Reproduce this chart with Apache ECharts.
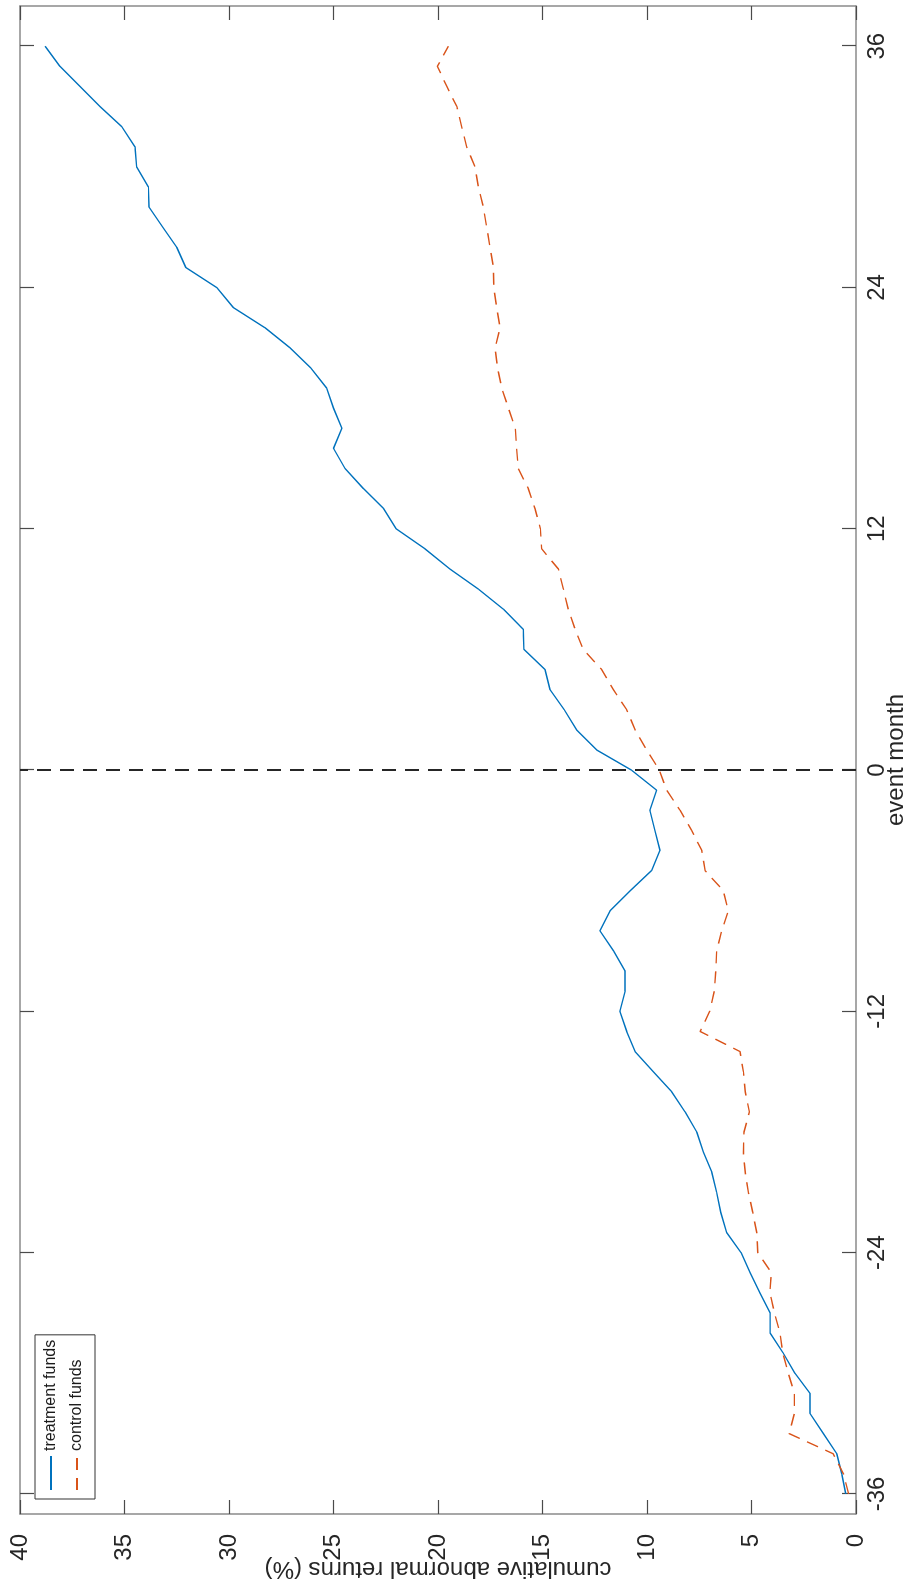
<!DOCTYPE html>
<html><head><meta charset="utf-8">
<script src="https://cdn.jsdelivr.net/npm/echarts@6/dist/echarts.min.js"></script>
<style>
html,body{margin:0;padding:0;background:#fff;overflow:hidden;width:909px;height:1581px;}
#rot{position:absolute;left:0;top:0;width:1581px;height:909px;transform-origin:0 0;transform:translate(0px,1581px) rotate(-90deg);}
</style></head><body>
<div id="rot"></div>
<script>
const months = [-36,-35,-34,-33,-32,-31,-30,-29,-28,-27,-26,-25,-24,-23,-22,-21,-20,-19,-18,-17,-16,-15,-14,-13,-12,-11,-10,-9,-8,-7,-6,-5,-4,-3,-2,-1,0,1,2,3,4,5,6,7,8,9,10,11,12,13,14,15,16,17,18,19,20,21,22,23,24,25,26,27,28,29,30,31,32,33,34,35,36];
const treatment = [0.49,0.68,0.92,1.56,2.2,2.2,2.92,3.48,4.11,4.11,4.6,5.07,5.5,6.19,6.47,6.67,6.9,7.3,7.62,8.18,8.82,9.7,10.57,10.97,11.3,11.05,11.05,11.6,12.25,11.77,10.8,9.78,9.38,9.62,9.86,9.54,10.75,12.41,13.37,13.96,14.64,14.88,15.89,15.92,16.87,18.07,19.43,20.62,22.0,22.6,23.57,24.45,25.0,24.6,25.0,25.33,26.09,27.08,28.28,29.79,30.59,32.07,32.5,33.17,33.83,33.86,34.42,34.5,35.13,36.17,37.13,38.09,38.8];
const control = [0.35,0.6,1.1,3.2,2.95,2.95,3.24,3.5,3.64,3.9,4.12,4.05,4.7,4.75,4.94,5.15,5.3,5.39,5.36,5.1,5.3,5.39,5.55,7.46,7.0,6.78,6.71,6.67,6.43,6.11,6.35,7.22,7.38,7.86,8.42,9.06,9.41,10.02,10.57,10.97,11.61,12.17,13.05,13.44,13.77,14.0,14.24,15.04,15.1,15.36,15.68,16.16,16.24,16.3,16.63,16.95,17.15,17.27,17.03,17.19,17.33,17.35,17.51,17.67,17.83,18.07,18.23,18.63,18.87,19.1,19.58,20.03,19.5];
const monthTicks = [-36,-24,-12,0,12,24,36];
const seriesNames = ['treatment funds','control funds'];
const xName = 'event month';
const yName = 'cumulative abnormal returns (%)';

const FONT = '"Liberation Sans", Arial, Helvetica, sans-serif';
const frame = {show:true, onZero:false, lineStyle:{color:'#8a8a8a', width:1.5}};
const tick = {show:true, inside:true, length:14, lineStyle:{color:'#4a4a4a', width:1.2}};

const chart = echarts.init(document.getElementById('rot'), null, {renderer:'canvas', width:1581, height:909});
chart.setOption({
  animation:false,
  backgroundColor:'#ffffff',
  grid:{left:67, right:6, top:20, bottom:53, containLabel:false},
  legend:{
    orient:'vertical', left:82, top:35,
    data:seriesNames,
    backgroundColor:'#ffffff', borderColor:'#333333', borderWidth:1,
    padding:[8,5,10,8], itemWidth:34, itemHeight:15, itemGap:10,
    itemStyle:{opacity:0},
    textStyle:{fontFamily:FONT, fontSize:16, color:'#1a1a1a'}
  },
  xAxis:[
    {type:'value', min:-37, max:38, position:'bottom', axisLine:frame,
     axisTick:Object.assign({customValues:monthTicks}, tick),
     axisLabel:{customValues:monthTicks, fontFamily:FONT, fontSize:24, color:'#262626', margin:9},
     splitLine:{show:false}},
    {type:'value', min:-37, max:38, position:'top', axisLine:frame,
     axisTick:Object.assign({customValues:monthTicks}, tick),
     axisLabel:{show:false}, splitLine:{show:false}}
  ],
  yAxis:[
    {type:'value', min:0, max:40, interval:5, position:'left', axisLine:frame, axisTick:tick,
     axisLabel:{fontFamily:FONT, fontSize:24, color:'#262626', margin:20},
     splitLine:{show:false}},
    {type:'value', min:0, max:40, interval:5, position:'right', axisLine:frame, axisTick:tick,
     axisLabel:{show:false}, splitLine:{show:false}}
  ],
  graphic:[
    {type:'text', x:821, y:896, silent:true,
     style:{text:xName, fontFamily:FONT, fontSize:24, fill:'#262626', textAlign:'center', textVerticalAlign:'middle'}},
    {type:'text', x:12, y:438, rotation:Math.PI/2, silent:true,
     style:{text:yName, fontFamily:FONT, fontSize:24, fill:'#262626', textAlign:'center', textVerticalAlign:'middle'}}
  ],
  series:[
    {name:seriesNames[0], type:'line', data:months.map((m,i)=>[m, treatment[i]]),
     showSymbol:false, symbol:'none', lineStyle:{color:'#0072BD', width:1.4}, itemStyle:{color:'#0072BD'}, z:3,
     markLine:{silent:true, symbol:['none','none'], label:{show:false},
       lineStyle:{color:'#262626', width:2, type:[14,9]}, data:[{xAxis:0}]}},
    {name:seriesNames[1], type:'line', data:months.map((m,i)=>[m, control[i]]),
     showSymbol:false, symbol:'none', lineStyle:{color:'#D95319', width:1.4, type:[12,8]}, itemStyle:{color:'#D95319'}, z:3}
  ]
});
</script>
</body></html>
